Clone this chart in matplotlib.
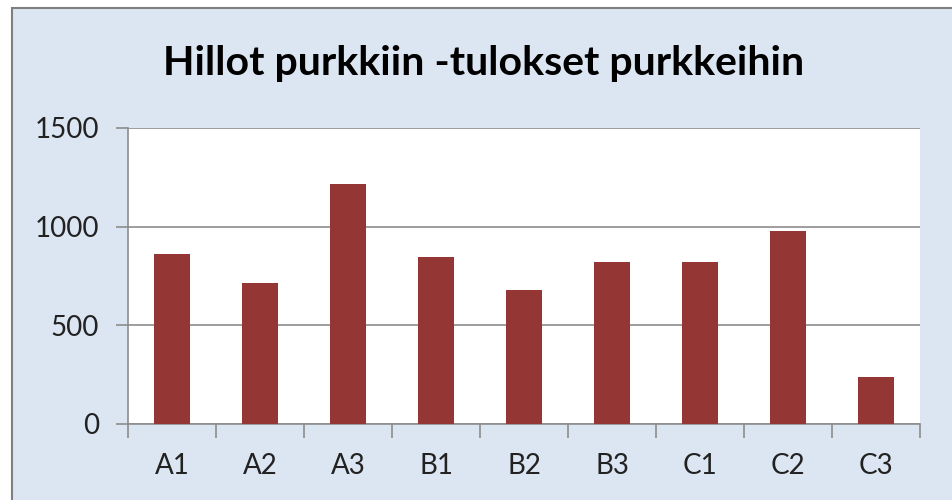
import matplotlib.pyplot as plt
from matplotlib.patches import Rectangle

categories = ["A1", "A2", "A3", "B1", "B2", "B3", "C1", "C2", "C3"]
values = [862, 713, 1215, 848, 680, 822, 822, 980, 237]
yticks = [0, 500, 1000, 1500]

BG = "#dce6f2"
BAR = "#943634"
GRID = "#8c8c8c"

plt.rcParams['font.family'] = ['Lato', 'DejaVu Sans']

fig = plt.figure(figsize=(9.52, 5.0), dpi=100, facecolor="white")
W, H = 952, 500

# chart frame (runs off the bottom and right edges like the screenshot)
frame = Rectangle((12 / W, -0.1), 1.0, 1.1 - 8 / H, transform=fig.transFigure,
                  facecolor=BG, edgecolor="#7f7f7f", linewidth=1.5, zorder=-10)
fig.add_artist(frame)

ax = fig.add_axes([128 / W, 1 - 424 / H, (920 - 128) / W, (424 - 128) / H])
ax.set_facecolor("white")

x = range(len(categories))
ax.bar(x, values, width=0.4, color=BAR, zorder=3)

ax.set_xlim(-0.5, len(categories) - 0.5)
ax.set_ylim(0, 1500)
ax.set_yticks(yticks)
ax.set_yticklabels([str(v) for v in yticks], fontsize=20, color="#222222")
ax.set_xticks(list(x))
ax.set_xticklabels(categories, fontsize=20, color="#222222")
ax.tick_params(axis='x', length=0, pad=21)
ax.tick_params(axis='y', length=9, color=GRID, width=1.2, pad=12, direction='out')

# category boundary ticks on x axis
ax.set_xticks([i - 0.5 for i in range(len(categories) + 1)], minor=True)
ax.tick_params(axis='x', which='minor', length=10, color=GRID, width=1.2, direction='out')

ax.yaxis.grid(True, color=GRID, linewidth=1.2, zorder=0)
ax.set_axisbelow(True)
for side in ["top", "right"]:
    ax.spines[side].set_visible(False)
for side in ["left", "bottom"]:
    ax.spines[side].set_color(GRID)
    ax.spines[side].set_linewidth(1.2)

fig.text(484 / W, 1 - 63 / H, "Hillot purkkiin -tulokset purkkeihin",
         ha="center", va="center", fontsize=29.5, fontweight="bold", color="black")

fig.savefig("out.png", dpi=100, facecolor="white")
